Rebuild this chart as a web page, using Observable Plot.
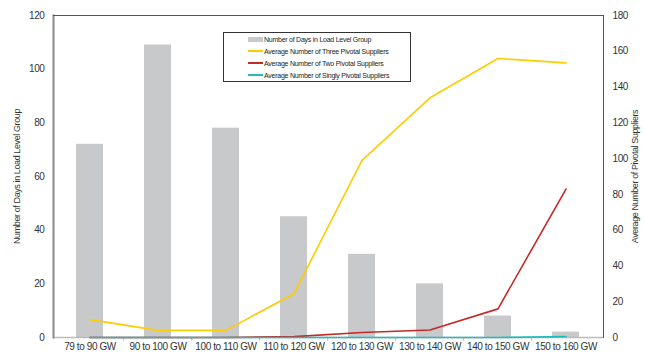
<!DOCTYPE html>
<html>
<head>
<meta charset="utf-8">
<script src="https://cdn.jsdelivr.net/npm/d3@7"></script>
<script src="https://cdn.jsdelivr.net/npm/@observablehq/plot@0.6"></script>
<style>
  html, body { margin: 0; padding: 0; background: #fff; }
  #wrap { position: relative; width: 645px; height: 354px; font-family: "Liberation Sans", Arial, sans-serif; }
  #legend { position: absolute; left: 223px; top: 32px; width: 186px; height: 48px; border: 1px solid #333; background: #fff; font-size: 7px; letter-spacing: -0.25px; color: #222; }
  .row { position: absolute; left: 24px; height: 10px; display: flex; align-items: center; white-space: nowrap; }
  .sw { width: 15px; margin-right: 1px; flex: none; }
</style>
</head>
<body>
<div id="wrap"></div>
<script>
const categories = ["79 to 90 GW","90 to 100 GW","100 to 110 GW","110 to 120 GW","120 to 130 GW","130 to 140 GW","140 to 150 GW","150 to 160 GW"];
const days = [72, 109, 78, 45, 31, 20, 8, 2];
const threePivotal = [10, 4, 4, 24.5, 99, 134, 156, 153.5];
const twoPivotal = [0, 0, 0, 0.5, 2.8, 4.2, 16, 83];
const singlyPivotal = [0, 0, 0, 0, 0, 0, 0, 0.5];
const leftTicks = [0, 20, 40, 60, 80, 100, 120];
const rightTicks = [0, 20, 40, 60, 80, 100, 120, 140, 160, 180];
const seriesNames = ["Number of Days in Load Level Group","Average Number of Three Pivotal Suppliers","Average Number of Two Pivotal Suppliers","Average Number of Singly Pivotal Suppliers"];
const colors = ["#c8c9cb", "#ffcc00", "#c42a26", "#20bdbd"];

const k = 120 / 180; // right-axis -> left-axis units
const barData = categories.map((c, i) => ({cat: c, v: days[i]}));
const lineData = (arr, s) => categories.map((c, i) => ({cat: c, v: arr[i], s}));
const lines = [...lineData(threePivotal, 1), ...lineData(twoPivotal, 2), ...lineData(singlyPivotal, 3)];
const bw = (645 - 53 - 42) / categories.length;

const chart = Plot.plot({
  width: 645, height: 354,
  marginLeft: 53, marginRight: 42, marginTop: 15, marginBottom: 17,
  style: {fontFamily: '"Liberation Sans", Arial, sans-serif', fontSize: "10px", color: "#333", letterSpacing: "-0.4px"},
  x: {domain: categories, paddingInner: 0.6, paddingOuter: 0.3, align: 0.5},
  y: {domain: [0, 120]},
  marks: [
    Plot.barY(barData, {x: "cat", y: "v", fill: colors[0]}),
    Plot.ruleY([0], {stroke: "#bbbbbb", strokeWidth: 1.5}),
    Plot.ruleX(categories.slice(1), {x: d => d, dx: -bw / 2, y1: 0, y2: -1.4, stroke: "#bbbbbb"}),
    Plot.line(lines, {x: "cat", y: d => d.v * k, z: "s", stroke: d => colors[d.s], strokeWidth: 1.6}),
    Plot.frame({anchor: "left", stroke: "#888", strokeWidth: 2}),
    Plot.frame({anchor: "top", stroke: "#555", strokeWidth: 1}),
    Plot.frame({anchor: "right", stroke: "#555", strokeWidth: 1}),
    Plot.axisX({tickSize: 0, tickPadding: 5, label: null, fontSize: 10}),
    Plot.axisY(leftTicks, {anchor: "left", tickSize: 0, tickPadding: 9, fontSize: 10, label: "Number of Days in Load Level Group", labelAnchor: "center", labelOffset: 40, labelArrow: "none"}),
    Plot.axisY(rightTicks.map(t => t * k), {anchor: "right", tickSize: 0, tickPadding: 9, fontSize: 10, tickFormat: t => Math.round(t / k), label: "Average Number of Pivotal Suppliers", labelAnchor: "center", labelOffset: 34, labelArrow: "none"})
  ]
});

const wrap = document.getElementById("wrap");
wrap.appendChild(chart);
// axis titles slightly smaller
chart.querySelectorAll("g[aria-label='y-axis label'] text").forEach(t => { t.style.fontSize = "9px"; });

const legend = document.createElement("div");
legend.id = "legend";
const tops = [1, 13, 25, 37];
seriesNames.forEach((name, i) => {
  const row = document.createElement("div");
  row.className = "row";
  row.style.top = tops[i] + "px";
  const sw = document.createElement("div");
  sw.className = "sw";
  sw.style.height = i === 0 ? "5px" : "2px";
  sw.style.background = colors[i];
  const t = document.createElement("span");
  t.textContent = name;
  row.appendChild(sw);
  row.appendChild(t);
  legend.appendChild(row);
});
wrap.appendChild(legend);
</script>
</body>
</html>
